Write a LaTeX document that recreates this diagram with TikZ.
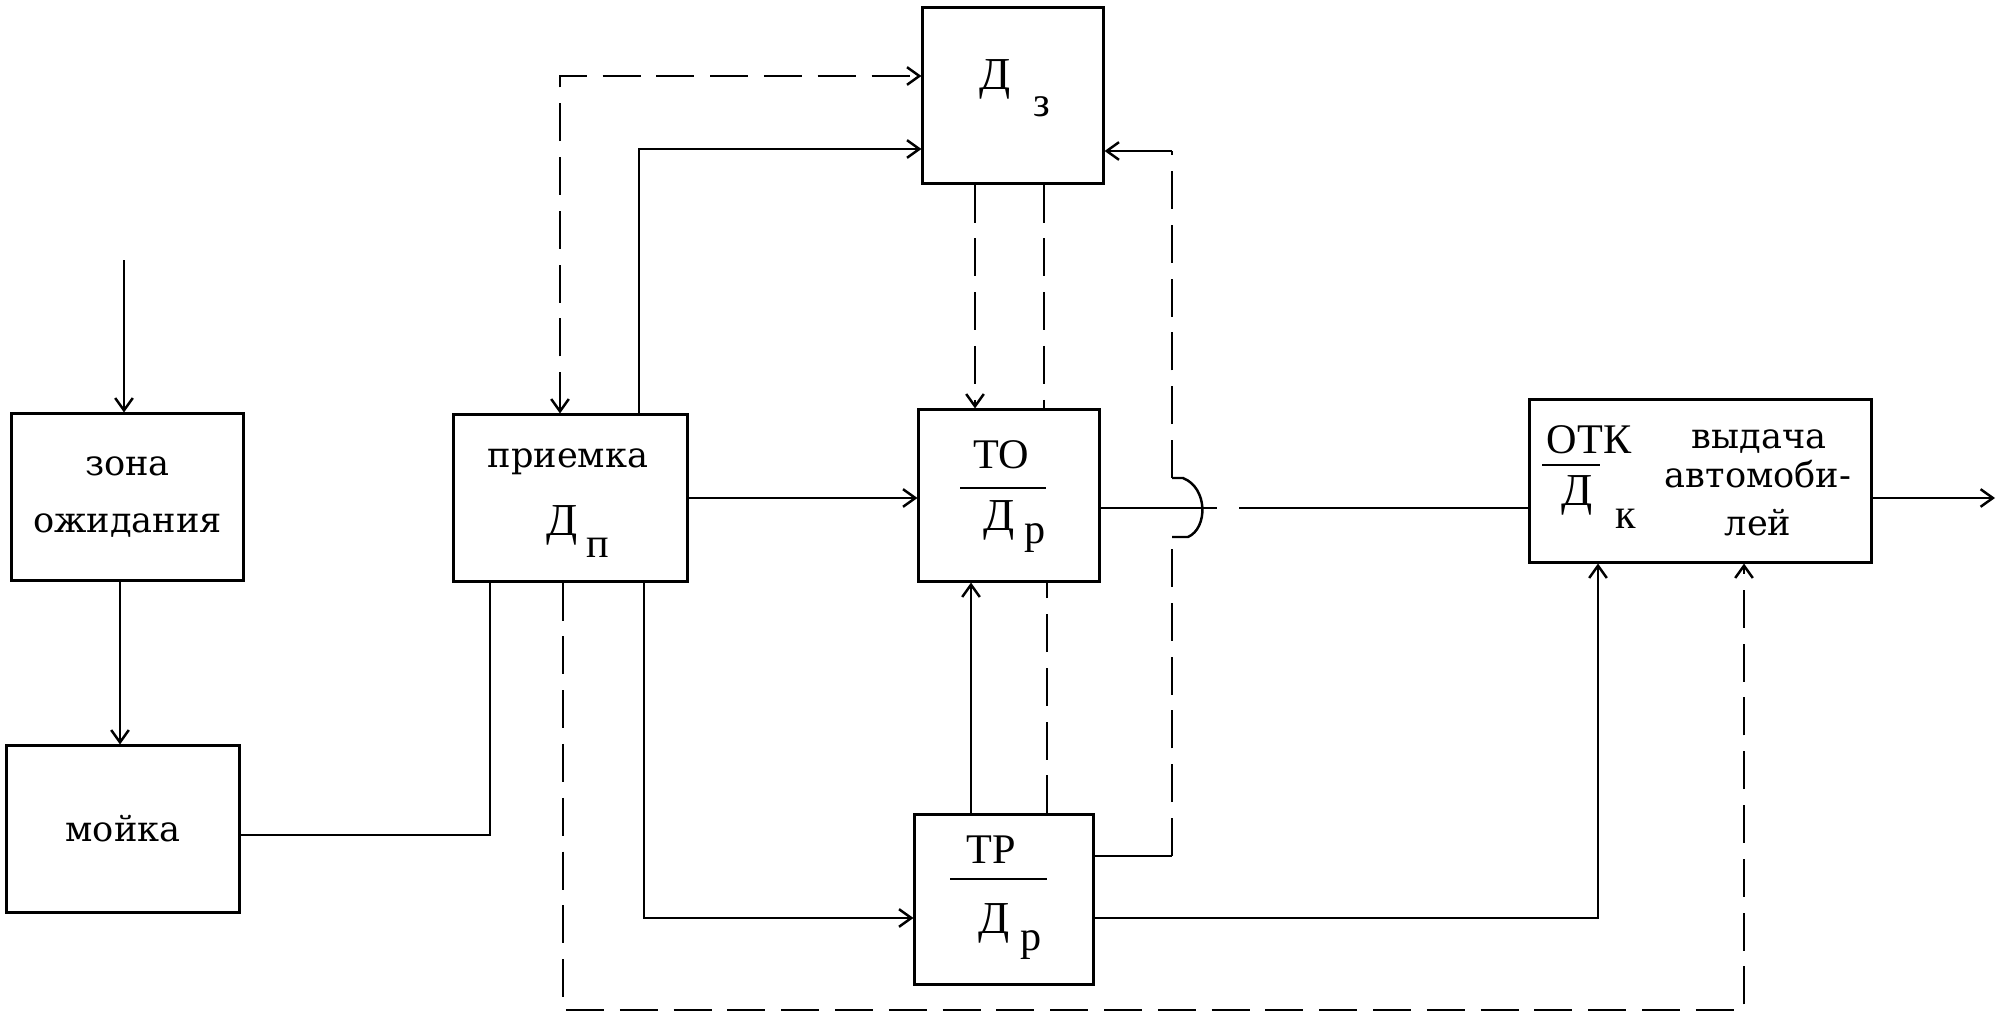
\documentclass[tikz,border=0pt]{standalone}
\usepackage{fontspec}
\setmainfont{Liberation Serif}
\newfontfamily\typefont{DejaVu Serif}
\usetikzlibrary{arrows.meta}

\newcommand{\Dsub}[3]{Д\hspace{#1}\raisebox{-#2}{\fontsize{12}{14}\selectfont #3}}

\begin{document}
\begin{tikzpicture}[x=0.01cm,y=-0.01cm,line width=0.7pt,
  >={Straight Barb[length=3.5pt,width=5pt]},
  blk/.style={draw,line width=0.85pt,inner sep=0pt},
  word/.style={font=\typefont\fontsize{10}{16}\selectfont,inner sep=0pt},
  sym/.style={font=\fontsize{12}{14}\selectfont,inner sep=0pt,anchor=base},
  dlet/.style={font=\fontsize{13}{15}\selectfont,inner sep=0pt,anchor=base west},
  dsh/.style={dash pattern=on 10.8pt off 4.5pt}]
\useasboundingbox (0,0) rectangle (2002,1018);

% boxes
\node[blk,word,align=center,minimum width=2.31cm,minimum height=1.66cm] (zona) at (127.5,497) {зона\\ожидания};
\node[blk,word,minimum width=2.32cm,minimum height=1.66cm] (mojka) at (123,829) {мойка};
\node[blk,minimum width=2.33cm,minimum height=1.66cm] (priemka) at (570.5,498) {};
\node[blk,minimum width=1.80cm,minimum height=1.75cm] (Dz) at (1013,95.5) {};
\node[blk,minimum width=1.80cm,minimum height=1.71cm] (TO) at (1009,495.5) {};
\node[blk,minimum width=1.78cm,minimum height=1.69cm] (TR) at (1004,899.5) {};
\node[blk,minimum width=3.41cm,minimum height=1.62cm] (OTK) at (1700.5,481) {};

% labels
\node[word,anchor=base] (priemkaT) at (568,467) {приемка};
\node[dlet] (priemkaD) at (545,535) {\Dsub{0.09cm}{0.22cm}{п}};
\node[dlet] (DzD) at (978,90) {\Dsub{0.23cm}{0.26cm}{з}};
\node[sym] (TOT) at (1001,468) {ТО};
\draw (960,488) -- (1046,488);
\node[dlet] (TOD) at (982,530) {\Dsub{0.10cm}{0.13cm}{р}};
\node[sym] (TRT) at (991,863) {ТР};
\draw (950,879) -- (1047,879);
\node[dlet] (TRD) at (977,933) {\Dsub{0.11cm}{0.17cm}{р}};
\node[sym] (OTKT) at (1589,453) {ОТК};
\draw (1542,465) -- (1600,465);
\node[dlet] (OTKD) at (1560,505) {\Dsub{0.23cm}{0.23cm}{к}};
\node[word,anchor=base] (vyd1) at (1759,448) {выдача};
\node[word,anchor=base] (vyd2) at (1758,487) {автомоби-};
\node[word,anchor=base] (vyd3) at (1758,535) {лей};

% bend points
\coordinate (in) at (124,260);
\coordinate (out) at (1995,498);
\coordinate (zm) at (120,0);
\coordinate (t1) at (560,76);
\coordinate (t2) at (639,149);
\coordinate (t3) at (644,918);
\coordinate (t4) at (1598,918);
\coordinate (t5) at (490,835);
\coordinate (b1) at (563,1010);
\coordinate (b2) at (1744,1010);
\coordinate (dzTOa) at (975,0);
\coordinate (dzTOb) at (1044,0);
\coordinate (trTOa) at (971,0);
\coordinate (trTOb) at (1047,0);
\coordinate (h1) at (1172,856);
\coordinate (h2) at (1172,537);
\coordinate (h3) at (1172,478);
\coordinate (h4) at (1172,151);
\coordinate (g1) at (1217,508);
\coordinate (g2) at (1239,508);

% connectors
\draw[->] (in) -- (zona.north -| in);
\draw[->] (zona.south -| zm) -- (mojka.north -| zm);
\draw (mojka.east |- t5) -- (t5) -- (priemka.south -| t5);
\draw[dsh,<->] (priemka.north -| t1) -- (t1) -- (Dz.west |- t1);
\draw[->] (priemka.north -| t2) -- (t2) -- (Dz.west |- t2);
\draw[->] (priemka.east) -- (TO.west |- priemka.east);
\draw[->] (priemka.south -| t3) -- (t3) -- (TR.west |- t3);
\draw[dsh,->] (priemka.south -| b1) -- (b1) -- (b2) -- (OTK.south -| b2);
\draw[dsh,->] (Dz.south -| dzTOa) -- (TO.north -| dzTOa);
\draw[dsh] (Dz.south -| dzTOb) -- (TO.north -| dzTOb);
\draw[->] (TR.north -| trTOa) -- (TO.south -| trTOa);
\draw[dsh] (TR.north -| trTOb) -- (TO.south -| trTOb);
\draw (TR.east |- h1) -- (h1);
\draw[dsh] (h1) -- (h2);
\draw (h2) -- (1188,537) .. controls (1208,528) and (1208,488) .. (1183,478) -- (h3);
\draw[dsh] (h3) -- (h4);
\draw[->] (h4) -- (Dz.east |- h4);
\draw (TO.east |- g1) -- (g1);
\draw (g2) -- (OTK.west |- g2);
\draw[->] (TR.east |- t4) -- (t4) -- (OTK.south -| t4);
\draw[->] (OTK.east |- out) -- (out);
\end{tikzpicture}
\end{document}
